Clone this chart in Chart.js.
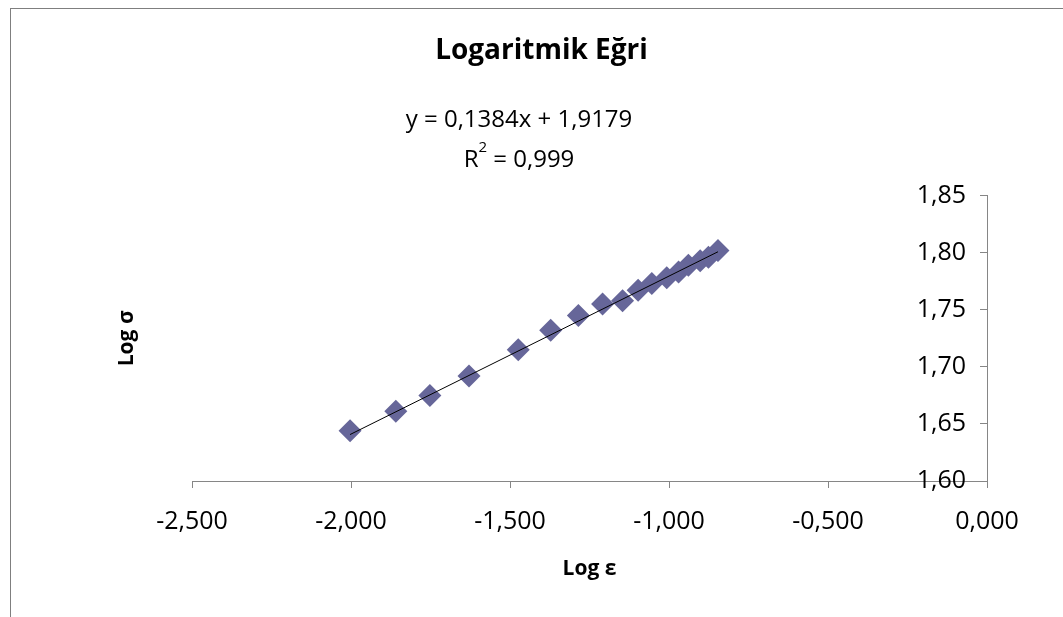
<!DOCTYPE html>
<html>
<head>
<meta charset="utf-8">
<title>Logaritmik Eğri</title>
<script src="https://cdn.jsdelivr.net/npm/chart.js@4.4.1/dist/chart.umd.min.js"></script>
<style>
  html, body { margin: 0; padding: 0; background: #fff; overflow: hidden; }
  #wrap { position: relative; width: 1063px; height: 617px; }
  #frame { position: absolute; left: 10px; top: 8px; width: 1070px; height: 620px; border-left: 1px solid #7f7f7f; border-top: 1px solid #7f7f7f; }
  #chart { position: absolute; left: 0; top: 0; }
</style>
</head>
<body>
<div id="wrap">
  <div id="frame"></div>
  <canvas id="chart" width="1063" height="617"></canvas>
</div>
<script>
// --- Data ---
const logStrain = [-2.003, -1.859, -1.752, -1.629, -1.474, -1.372, -1.285, -1.209, -1.146,
                   -1.097, -1.054, -1.007, -0.970, -0.939, -0.902, -0.876, -0.846];
const logStress = [1.644, 1.661, 1.675, 1.692, 1.715, 1.732, 1.745, 1.755, 1.758,
                   1.767, 1.773, 1.778, 1.783, 1.789, 1.793, 1.796, 1.802];
const xTicks = [-2.5, -2.0, -1.5, -1.0, -0.5, 0];
const yTicks = [1.60, 1.65, 1.70, 1.75, 1.80, 1.85];

// trendline as printed on the chart
const slope = 0.1384;
const intercept = 1.9179;
const rSquared = 0.999;

const FONT = '"Open Sans", "Liberation Sans", sans-serif';
const AXIS_GREY = '#868686';

// comma decimals, as in the Turkish original
function fmt(v, d) {
  return v.toFixed(d).replace('.', ',');
}

const points = logStrain.map((x, i) => ({ x: x, y: logStress[i] }));
const xFirst = Math.min(...logStrain);
const xLast = Math.max(...logStrain);
const trendPoints = [
  { x: xFirst, y: slope * xFirst + intercept },
  { x: xLast, y: slope * xLast + intercept }
];

// --- Trendline label (equation + R²) ---
const trendLabel = {
  id: 'trendLabel',
  afterDraw(chart) {
    const ctx = chart.ctx;
    const cx = 519;
    ctx.save();
    ctx.fillStyle = '#000';
    ctx.textBaseline = 'alphabetic';

    ctx.font = '24px ' + FONT;
    ctx.textAlign = 'center';
    ctx.fillText('y = ' + fmt(slope, 4) + 'x + ' + fmt(intercept, 4), cx, 127);

    // R² with a raised 2
    const rest = ' = ' + fmt(rSquared, 3);
    ctx.textAlign = 'left';
    const wR = ctx.measureText('R').width;
    const wRest = ctx.measureText(rest).width;
    ctx.font = '15px ' + FONT;
    const wSup = ctx.measureText('2').width;
    let x = cx - (wR + wSup + wRest) / 2;
    ctx.font = '24px ' + FONT;
    ctx.fillText('R', x, 167);
    x += wR;
    ctx.font = '15px ' + FONT;
    ctx.fillText('2', x, 152);
    x += wSup;
    ctx.font = '24px ' + FONT;
    ctx.fillText(rest, x, 167);
    ctx.restore();
  }
};

new Chart(document.getElementById('chart').getContext('2d'), {
  type: 'scatter',
  data: {
    datasets: [
      {
        label: 'Trend',
        data: trendPoints,
        showLine: true,
        borderColor: '#000',
        borderWidth: 1,
        pointRadius: 0,
        order: 0
      },
      {
        label: 'Log σ',
        data: points,
        pointStyle: 'rectRot',
        pointRadius: 11.5,
        backgroundColor: '#666699',
        borderColor: '#666699',
        borderWidth: 0,
        order: 1
      }
    ]
  },
  plugins: [trendLabel],
  options: {
    responsive: false,
    animation: false,
    layout: { padding: { left: 20, right: 0, top: 0, bottom: 0 } },
    plugins: {
      legend: { display: false },
      tooltip: { enabled: false },
      title: {
        display: true,
        text: 'Logaritmik Eğri',
        color: '#000',
        font: { family: FONT, size: 28, weight: 'bold' },
        padding: { top: 34, bottom: 128 }
      }
    },
    scales: {
      x: {
        type: 'linear',
        position: 'bottom',
        min: -2.5,
        max: 0,
        afterBuildTicks: s => { s.ticks = xTicks.map(v => ({ value: v })); },
        afterFit: s => { s.height = 136; },
        ticks: {
          color: '#000',
          font: { family: FONT, size: 25 },
          padding: 19,
          maxRotation: 0,
          callback: v => fmt(v, 3)
        },
        grid: { display: true, drawOnChartArea: false, drawTicks: true, tickLength: 7, color: AXIS_GREY },
        border: { display: true, color: AXIS_GREY, width: 1 },
        title: {
          display: true,
          text: 'Log ε',
          color: '#000',
          font: { family: FONT, size: 21, weight: 'bold' },
          padding: { top: 0, bottom: 35 }
        }
      },
      // value axis sits on the right edge (x = 0), labels and ticks turned inwards
      y: {
        type: 'linear',
        position: 'right',
        min: 1.6,
        max: 1.85,
        afterBuildTicks: s => { s.ticks = yTicks.map(v => ({ value: v })); },
        afterFit: s => { s.width = 76; },
        ticks: {
          color: '#000',
          font: { family: FONT, size: 25 },
          mirror: true,
          crossAlign: 'near',
          padding: -21,
          callback: v => fmt(v, 2)
        },
        grid: { display: true, drawOnChartArea: false, drawTicks: true, tickLength: -7, color: AXIS_GREY },
        border: { display: true, color: AXIS_GREY, width: 1 }
      },
      // left box only carries the "Log σ" title
      yTitle: {
        type: 'linear',
        position: 'left',
        afterFit: s => { s.width = 172; },
        ticks: { display: false },
        grid: { display: false },
        border: { display: false },
        title: {
          display: true,
          text: 'Log σ',
          color: '#000',
          font: { family: FONT, size: 21, weight: 'bold' },
          padding: { top: 94, bottom: 0 }
        }
      }
    }
  }
});
</script>
</body>
</html>
